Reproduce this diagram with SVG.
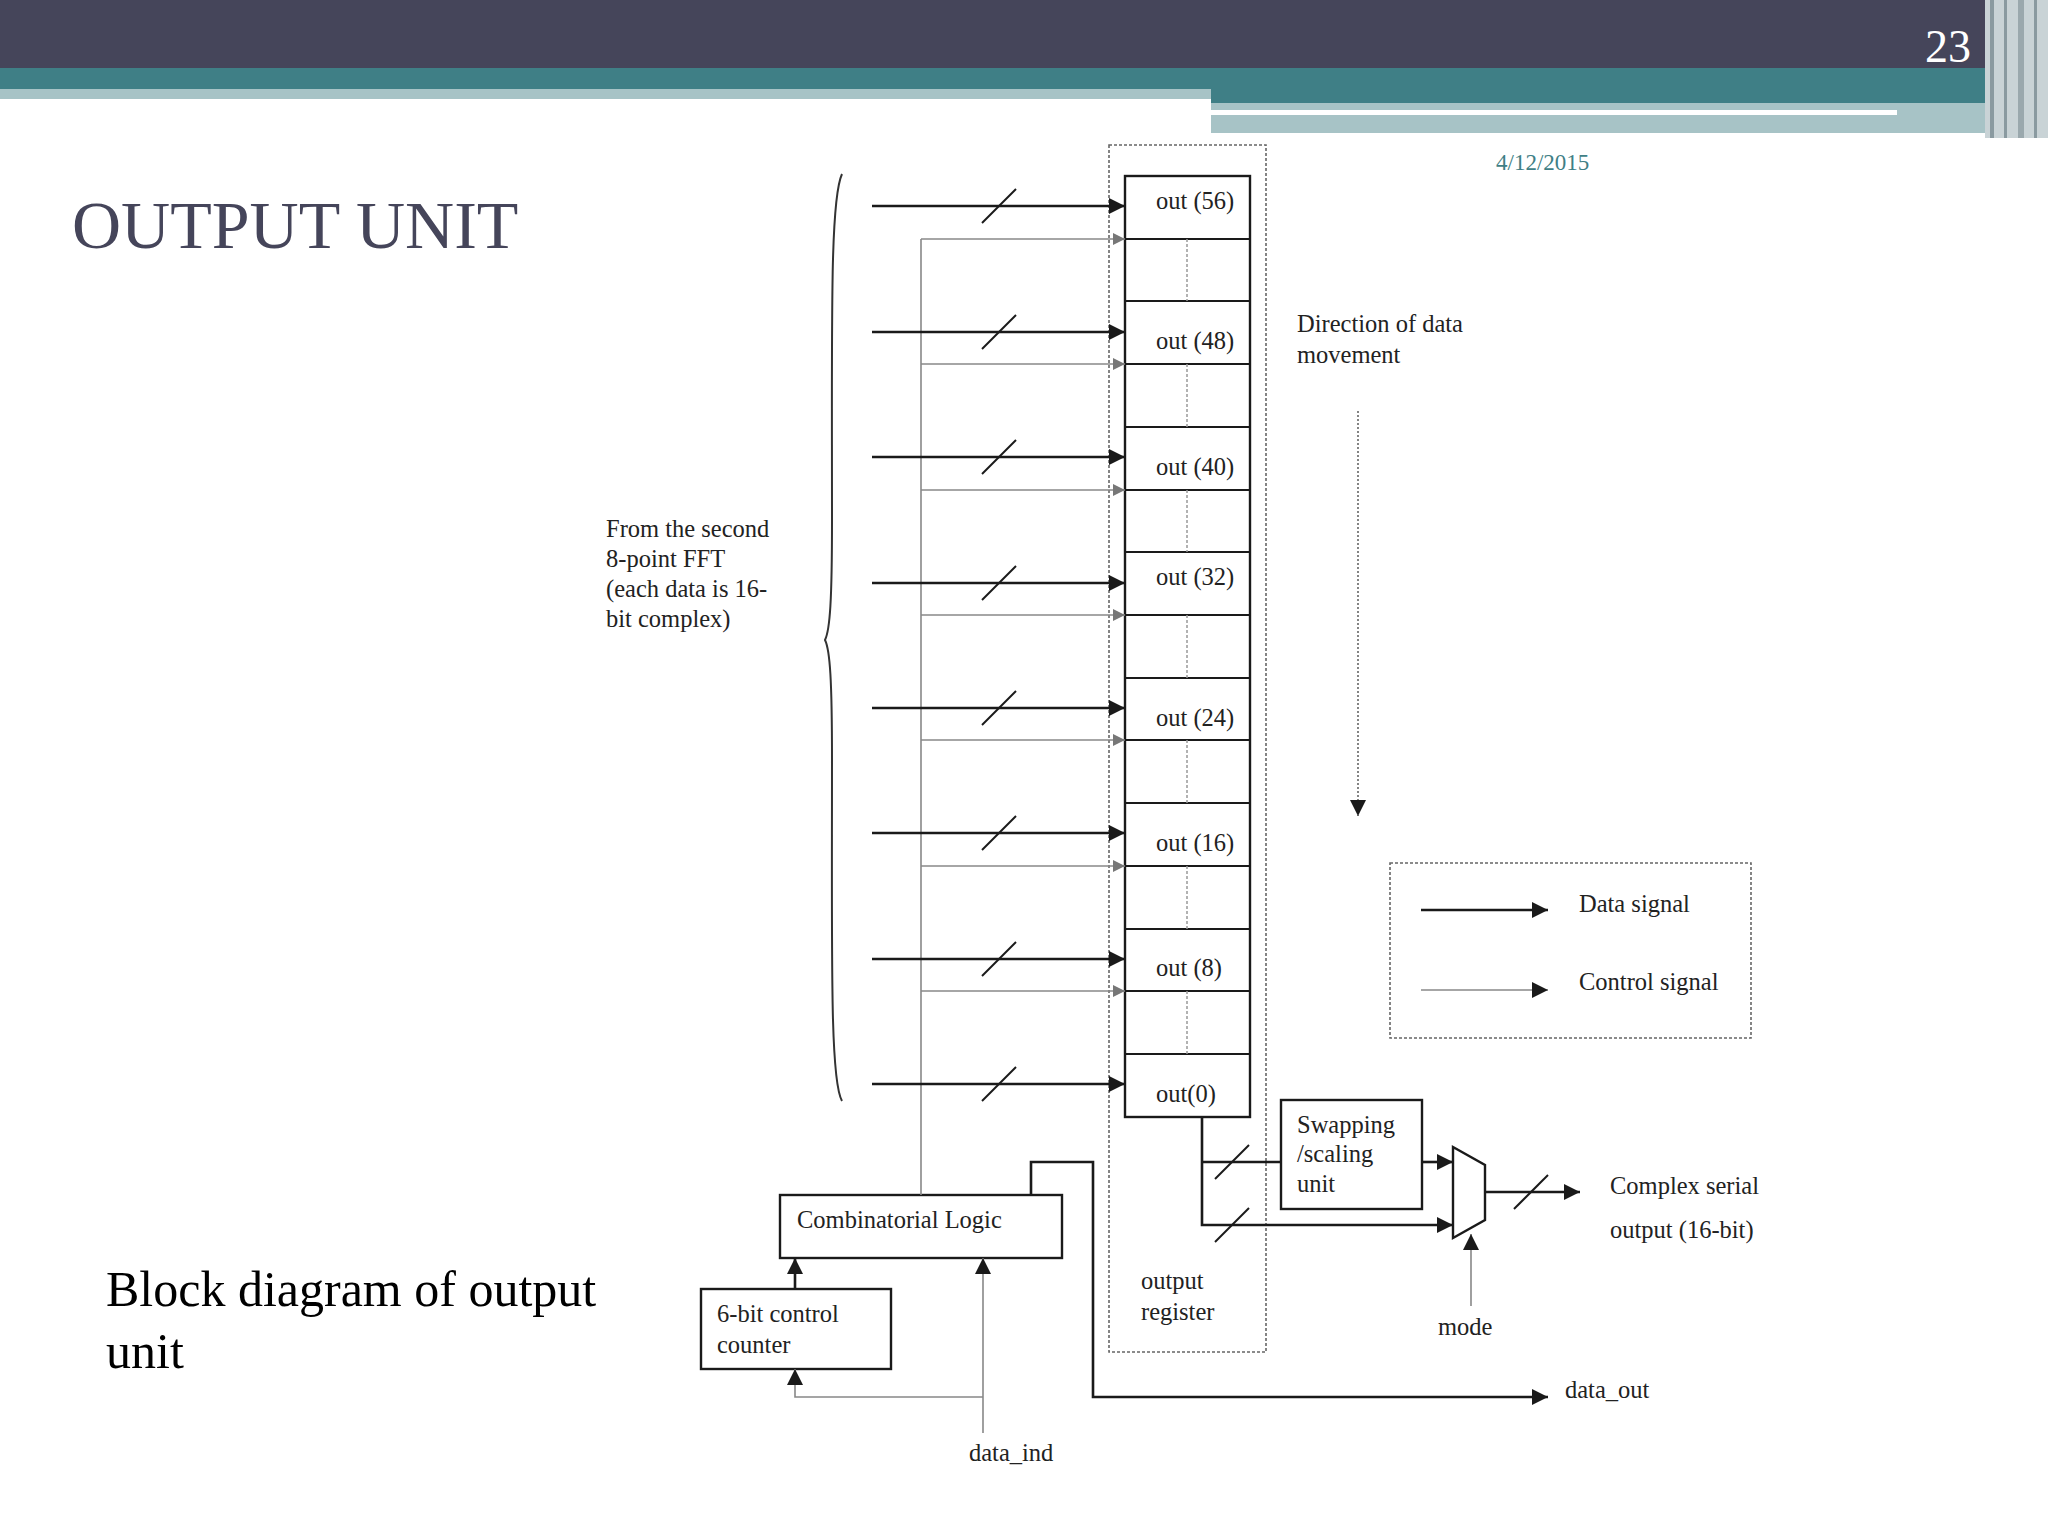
<svg xmlns="http://www.w3.org/2000/svg" width="2048" height="1536" viewBox="0 0 2048 1536">
<defs>
<style>
text{font-family:"Liberation Serif","Times New Roman",serif;fill:#222}
.lbl{font-size:24.5px}
.d{stroke:#1a1a1a;stroke-width:2.6;fill:none}
.c{stroke:#888;stroke-width:1.6;fill:none}
.box{fill:#fff;stroke:#1a1a1a;stroke-width:2.4}
.dash{fill:none;stroke:#666;stroke-width:1.6;stroke-dasharray:3 2}
</style>
<marker id="ac" viewBox="0 0 10 10" refX="10" refY="5" markerWidth="14" markerHeight="12" orient="auto" markerUnits="userSpaceOnUse"><path d="M0,0 L10,5 L0,10 z" fill="#777"/></marker>
<marker id="ab" viewBox="0 0 10 10" refX="10" refY="5" markerWidth="16" markerHeight="16" orient="auto" markerUnits="userSpaceOnUse"><path d="M0,0 L10,5 L0,10 z" fill="#1a1a1a"/></marker>
</defs>
<rect width="2048" height="1536" fill="#fff"/>
<g id="header">
<rect x="0" y="0" width="2048" height="68" fill="#45455a"/>
<rect x="0" y="68" width="1985" height="21" fill="#3f7f86"/>
<rect x="0" y="89" width="1211" height="10" fill="#a7c3c6"/>
<rect x="1211" y="89" width="774" height="14" fill="#3f7f86"/>
<rect x="1211" y="103" width="774" height="30" fill="#a7c3c6"/>
<rect x="1211" y="110" width="686" height="5" fill="#fff"/>
<rect x="1985" y="0" width="63" height="138" fill="#c9d3d6"/>
<rect x="1990" y="0" width="4" height="138" fill="#8a9aa0"/>
<rect x="2004" y="0" width="3" height="138" fill="#8a9aa0"/>
<rect x="2018" y="0" width="6" height="138" fill="#9aa8ad"/>
<rect x="2034" y="0" width="3" height="138" fill="#8a9aa0"/>
<text x="1925" y="62" style="fill:#fff;font-size:46px">23</text>
<text x="1496" y="170" style="fill:#3f7f86;font-size:23px">4/12/2015</text>
<text x="72" y="248" style="fill:#45455a;font-size:68px">OUTPUT UNIT</text>
<text x="106" y="1306" style="fill:#000;font-size:50px">Block diagram of output</text>
<text x="106" y="1368" style="fill:#000;font-size:50px">unit</text>
</g>
<g id="output-register">
<rect class="dash" x="1109" y="145" width="157" height="1207"/>
<text class="lbl" x="1141" y="1289">output</text>
<text class="lbl" x="1141" y="1320">register</text>
</g>
<g id="register-cells">
<rect class="box" x="1125" y="176" width="125" height="941"/>
<g stroke="#1a1a1a" stroke-width="2">
<line x1="1125" y1="239" x2="1250" y2="239"/><line x1="1125" y1="301" x2="1250" y2="301"/>
<line x1="1125" y1="364" x2="1250" y2="364"/><line x1="1125" y1="427" x2="1250" y2="427"/>
<line x1="1125" y1="490" x2="1250" y2="490"/><line x1="1125" y1="552" x2="1250" y2="552"/>
<line x1="1125" y1="615" x2="1250" y2="615"/><line x1="1125" y1="678" x2="1250" y2="678"/>
<line x1="1125" y1="740" x2="1250" y2="740"/><line x1="1125" y1="803" x2="1250" y2="803"/>
<line x1="1125" y1="866" x2="1250" y2="866"/><line x1="1125" y1="929" x2="1250" y2="929"/>
<line x1="1125" y1="991" x2="1250" y2="991"/><line x1="1125" y1="1054" x2="1250" y2="1054"/>
</g>
<g stroke="#999" stroke-width="1.5" stroke-dasharray="3 2">
<line x1="1187" y1="239" x2="1187" y2="301"/><line x1="1187" y1="364" x2="1187" y2="427"/>
<line x1="1187" y1="490" x2="1187" y2="552"/><line x1="1187" y1="615" x2="1187" y2="678"/>
<line x1="1187" y1="740" x2="1187" y2="803"/><line x1="1187" y1="866" x2="1187" y2="929"/>
<line x1="1187" y1="991" x2="1187" y2="1054"/>
</g>
<text class="lbl" x="1156" y="209">out (56)</text>
<text class="lbl" x="1156" y="349">out (48)</text>
<text class="lbl" x="1156" y="475">out (40)</text>
<text class="lbl" x="1156" y="585">out (32)</text>
<text class="lbl" x="1156" y="726">out (24)</text>
<text class="lbl" x="1156" y="851">out (16)</text>
<text class="lbl" x="1156" y="976">out (8)</text>
<text class="lbl" x="1156" y="1102">out(0)</text>
</g>
<g id="input-label">
<path d="M842,174 C830,200 832,320 832,520 C832,600 830,630 825,640 C830,650 832,680 832,760 C832,960 830,1080 842,1101" fill="none" stroke="#333" stroke-width="2"/>
<text class="lbl" x="606" y="537">From the second</text>
<text class="lbl" x="606" y="567">8-point FFT</text>
<text class="lbl" x="606" y="597">(each data is 16-</text>
<text class="lbl" x="606" y="627">bit complex)</text>
</g>
<g id="direction">
<text class="lbl" x="1297" y="332">Direction of data</text>
<text class="lbl" x="1297" y="363">movement</text>
<line x1="1358" y1="411" x2="1358" y2="816" stroke="#666" stroke-width="1.6" stroke-dasharray="2 2" marker-end="url(#ab)"/>
</g>
<g id="legend">
<rect class="dash" x="1390" y="863" width="361" height="175"/>
<line class="d" x1="1421" y1="910" x2="1548" y2="910" marker-end="url(#ab)"/>
<line class="c" x1="1421" y1="990" x2="1548" y2="990" marker-end="url(#ab)"/>
<text class="lbl" x="1579" y="912">Data signal</text>
<text class="lbl" x="1579" y="990">Control signal</text>
</g>
<g id="swapping-unit">
<rect class="box" x="1281" y="1100" width="141" height="109"/>
<text class="lbl" x="1297" y="1133">Swapping</text>
<text class="lbl" x="1297" y="1162">/scaling</text>
<text class="lbl" x="1297" y="1192">unit</text>
</g>
<g id="mux">
<path d="M1453,1147 L1485,1165 L1485,1220 L1453,1238 Z" fill="#fff" stroke="#1a1a1a" stroke-width="2.4"/>
<text class="lbl" x="1438" y="1335">mode</text>
<text class="lbl" x="1610" y="1194">Complex serial</text>
<text class="lbl" x="1610" y="1238">output (16-bit)</text>
</g>
<g id="combinatorial-logic">
<rect class="box" x="780" y="1195" width="282" height="63"/>
<text class="lbl" x="797" y="1228">Combinatorial Logic</text>
</g>
<g id="control-counter">
<rect class="box" x="701" y="1289" width="190" height="80"/>
<text class="lbl" x="717" y="1322">6-bit control</text>
<text class="lbl" x="717" y="1353">counter</text>
</g>
<g id="connectors">
<g class="c">
<line x1="921" y1="239" x2="921" y2="1195"/>
<line x1="921" y1="239" x2="1125" y2="239" marker-end="url(#ac)"/>
<line x1="921" y1="364" x2="1125" y2="364" marker-end="url(#ac)"/>
<line x1="921" y1="490" x2="1125" y2="490" marker-end="url(#ac)"/>
<line x1="921" y1="615" x2="1125" y2="615" marker-end="url(#ac)"/>
<line x1="921" y1="740" x2="1125" y2="740" marker-end="url(#ac)"/>
<line x1="921" y1="866" x2="1125" y2="866" marker-end="url(#ac)"/>
<line x1="921" y1="991" x2="1125" y2="991" marker-end="url(#ac)"/>
<line x1="983" y1="1433" x2="983" y2="1258" marker-end="url(#ab)"/>
<polyline points="983,1397 795,1397 795,1369" marker-end="url(#ab)"/>
<line x1="1471" y1="1306" x2="1471" y2="1234" marker-end="url(#ab)"/>
</g>
<g class="d">
<line x1="872" y1="206" x2="1125" y2="206" marker-end="url(#ab)"/>
<line x1="872" y1="332" x2="1125" y2="332" marker-end="url(#ab)"/>
<line x1="872" y1="457" x2="1125" y2="457" marker-end="url(#ab)"/>
<line x1="872" y1="583" x2="1125" y2="583" marker-end="url(#ab)"/>
<line x1="872" y1="708" x2="1125" y2="708" marker-end="url(#ab)"/>
<line x1="872" y1="833" x2="1125" y2="833" marker-end="url(#ab)"/>
<line x1="872" y1="959" x2="1125" y2="959" marker-end="url(#ab)"/>
<line x1="872" y1="1084" x2="1125" y2="1084" marker-end="url(#ab)"/>
</g>
<g stroke="#1a1a1a" stroke-width="2">
<line x1="982" y1="223" x2="1016" y2="189"/><line x1="982" y1="349" x2="1016" y2="315"/>
<line x1="982" y1="474" x2="1016" y2="440"/><line x1="982" y1="600" x2="1016" y2="566"/>
<line x1="982" y1="725" x2="1016" y2="691"/><line x1="982" y1="850" x2="1016" y2="816"/>
<line x1="982" y1="976" x2="1016" y2="942"/><line x1="982" y1="1101" x2="1016" y2="1067"/>
<line x1="1215" y1="1179" x2="1249" y2="1145"/><line x1="1215" y1="1242" x2="1249" y2="1208"/>
<line x1="1514" y1="1209" x2="1548" y2="1175"/>
</g>
<g class="d">
<polyline points="1202,1117 1202,1225 1453,1225" marker-end="url(#ab)"/>
<line x1="1202" y1="1162" x2="1281" y2="1162"/>
<line x1="1422" y1="1162" x2="1453" y2="1162" marker-end="url(#ab)"/>
<line x1="1485" y1="1192" x2="1580" y2="1192" marker-end="url(#ab)"/>
<line x1="795" y1="1289" x2="795" y2="1258" marker-end="url(#ab)"/>
<polyline points="1031,1195 1031,1162 1093,1162 1093,1397 1548,1397" marker-end="url(#ab)"/>
</g>
</g>
<text class="lbl" x="1565" y="1398">data_out</text>
<text class="lbl" x="969" y="1461">data_ind</text>
</svg>
